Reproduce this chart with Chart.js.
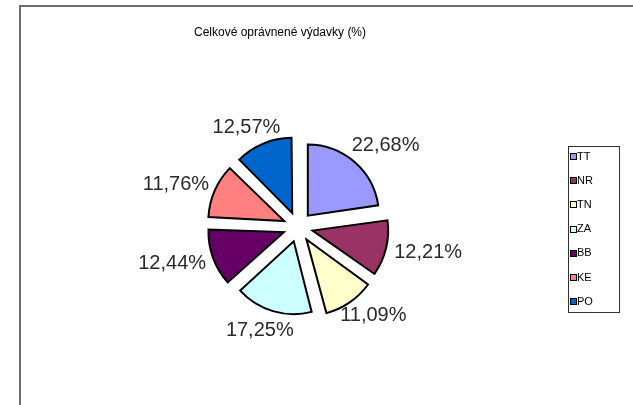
<!DOCTYPE html>
<html>
<head>
<meta charset="utf-8">
<script src="https://cdn.jsdelivr.net/npm/chart.js@4.4.0/dist/chart.umd.min.js"></script>
<style>
  html, body { margin: 0; padding: 0; background: #fff; }
  #wrap { width: 633px; height: 405px; }
</style>
</head>
<body>
<div id="wrap"><canvas id="showchart" width="633" height="405"></canvas></div>
<script>
// data
var regions = ["TT", "NR", "TN", "ZA", "BB", "KE", "PO"];
var shares = [22.68, 12.21, 11.09, 17.25, 12.44, 11.76, 12.57];
var colours = ["#9999FF", "#993366", "#FFFFCC", "#CCFFFF", "#660066", "#FF8080", "#0066CC"];
var chartTitle = "Celkové oprávnené výdavky (%)";

function fmt(v) {
	return v.toFixed(2).replace(".", ",") + "%";
}

// frame, title and the boxed legend, the way the sheet shows them
var decor = {
	id: "decor",
	beforeDraw: function(chart) {
		var ctx = chart.ctx;
		ctx.save();
		ctx.fillStyle = "#fff";
		ctx.fillRect(0, 0, chart.width, chart.height);
		ctx.strokeStyle = "#6e6e6e";
		ctx.lineWidth = 2;
		ctx.beginPath();
		ctx.moveTo(20, chart.height + 2);
		ctx.lineTo(20, 6);
		ctx.lineTo(chart.width + 2, 6);
		ctx.stroke();
		ctx.fillStyle = "#000";
		ctx.font = "12px 'Liberation Sans', Arial, sans-serif";
		ctx.textAlign = "center";
		ctx.textBaseline = "middle";
		ctx.fillText(chartTitle, 280, 33);
		ctx.restore();
	},
	afterDatasetsDraw: function(chart) {
		var ctx = chart.ctx;
		var arcs = chart.getDatasetMeta(0).data;
		ctx.save();
		ctx.font = "20px 'Liberation Sans', Arial, sans-serif";
		ctx.fillStyle = "#2a2a2a";
		ctx.textAlign = "center";
		ctx.textBaseline = "middle";
		for (var i = 0; i < arcs.length; i++) {
			var p = arcs[i].getProps(["x", "y", "startAngle", "endAngle"], true);
			var mid = (p.startAngle + p.endAngle) / 2;
			var cx = Math.cos(mid), cy = Math.sin(mid);
			var txt = fmt(shares[i]);
			var w = ctx.measureText(txt).width;
			var d = 100;
			ctx.fillText(txt, p.x + cx * (d + w / 2), p.y + cy * (d + 7.5));
		}
		ctx.restore();
	},
	afterDraw: function(chart) {
		var ctx = chart.ctx;
		ctx.save();
		ctx.strokeStyle = "#333";
		ctx.lineWidth = 1;
		ctx.strokeRect(568.5, 146.5, 51, 166);
		ctx.font = "11px 'Liberation Sans', Arial, sans-serif";
		ctx.textAlign = "left";
		ctx.textBaseline = "middle";
		for (var i = 0; i < regions.length; i++) {
			var y = 156 + i * 24.2;
			ctx.fillStyle = "#000";
			ctx.fillRect(570, Math.round(y) - 3, 7, 7);
			ctx.fillStyle = colours[i];
			ctx.fillRect(571, Math.round(y) - 2, 5, 5);
			ctx.fillStyle = "#000";
			ctx.fillText(regions[i], 577, y + 0.5);
		}
		ctx.restore();
	}
};

var ctx = document.getElementById("showchart");
var pie = new Chart(ctx, {
	type: "pie",
	data: {
		labels: regions,
		datasets: [{
			data: shares,
			backgroundColor: colours,
			borderColor: "#000",
			borderWidth: 2,
			borderJoinStyle: "miter",
			offset: 60
		}]
	},
	options: {
		responsive: false,
		animation: false,
		radius: 71,
		layout: { padding: { left: 178, right: 215, top: 107, bottom: 58 } },
		plugins: {
			legend: { display: false },
			title: { display: false },
			tooltip: { enabled: false }
		}
	},
	plugins: [decor]
});
</script>
</body>
</html>
